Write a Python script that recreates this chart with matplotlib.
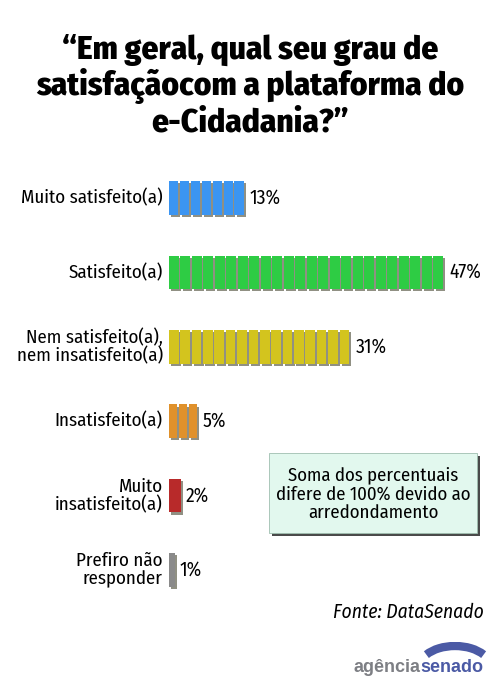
import math
import matplotlib
matplotlib.use("Agg")
import matplotlib.pyplot as plt
from matplotlib.patches import Rectangle, Arc
import matplotlib.patheffects as pe

categories = ["Muito satisfeito(a)", "Satisfeito(a)", "Nem satisfeito(a),\nnem insatisfeito(a)",
              "Insatisfeito(a)", "Muito\ninsatisfeito(a)", "Prefiro não\nresponder"]
values = [13, 47, 31, 5, 2, 1]
value_labels = ["13%", "47%", "31%", "5%", "2%", "1%"]
colors = ["#3b95f2", "#2ecc44", "#d3c41e", "#e0912b", "#b82a2a", "#8a8a8a"]

title = "\u201cEm geral, qual seu grau de\nsatisfaçãocom a plataforma do\ne-Cidadania?\u201d"
note = "Soma dos percentuais\ndifere de 100% devido ao\narredondamento"
source = "Fonte: DataSenado"

W, H = 500, 691
FONT = ["Fira Sans Condensed", "DejaVu Sans"]
fig = plt.figure(figsize=(W / 100, H / 100), dpi=100)
fig.patch.set_facecolor("white")

def fx(x): return x / W
def fy(y): return 1 - y / H

# title
fig.text(fx(250), fy(86), title, ha="center", va="center", fontsize=24, fontweight="heavy",
         family=FONT, linespacing=1.1, color="black")

# bar axes: x 0% at px 169, 5.87 px per %
x0, x1 = 169, 500
ppp = 5.87
ytop, ybot = 160, 610
c0, step = 198, 74.4
ax = fig.add_axes([fx(x0), fy(ybot), (x1 - x0) / W, (ybot - ytop) / H])
ax.set_xlim(0, (x1 - x0) / ppp)
ax.set_ylim((ybot - c0) / step, -(c0 - ytop) / step)
ax.axis("off")

bh = 0.45
shadow = [pe.SimplePatchShadow(offset=(1.6, -1.6), shadow_rgbFace="#6b6b5a", alpha=0.75), pe.Normal()]
for i, (v, col) in enumerate(zip(values, colors)):
    n = max(1, math.ceil(v / 2))
    w = v / n
    lefts = [k * w for k in range(n)]
    seg = w - 0.3 if n > 1 else w
    bars = ax.barh([i] * n, [seg] * n, left=lefts, height=bh, align="center", color=col,
                   edgecolor="none")
    for b in bars:
        b.set_path_effects(shadow)
    ax.text(v + 0.75, i, value_labels[i], ha="left", va="center", fontsize=14, family=FONT, color="black")
    ax.text(-1.05, i, categories[i], ha="right", va="center", fontsize=13.6, family=FONT,
            color="black", linespacing=1.0, multialignment="right")

# note box
bx, by, bw, bhh = 269, 453, 208, 80
fig.patches.append(Rectangle((fx(bx + 3), fy(by + bhh + 3)), bw / W, bhh / H, transform=fig.transFigure,
                             facecolor="#4a4a4a", edgecolor="none", zorder=1))
fig.patches.append(Rectangle((fx(bx), fy(by + bhh)), bw / W, bhh / H, transform=fig.transFigure,
                             facecolor="#e2f8ee", edgecolor="#9fbfb0", linewidth=0.6, zorder=2))
fig.text(fx(bx + bw / 2), fy(by + bhh / 2 + 1), note, ha="center", va="center", fontsize=13.5,
         family=FONT, linespacing=1.08, zorder=3)

# source
fig.text(fx(484), fy(612), source, ha="right", va="center", fontsize=14, family=FONT, style="italic")

# logo
fig.text(fx(421), fy(672), "agência", ha="right", va="baseline", fontsize=13, fontweight="bold",
         family=["Liberation Sans", "DejaVu Sans"], color="#7d7f84")
fig.text(fx(420), fy(672), "senado", ha="left", va="baseline", fontsize=13, fontweight="bold",
         family=["Liberation Sans", "DejaVu Sans"], color="#4b5aa5")
lax = fig.add_axes([fx(405), fy(672), 90 / W, 30 / H])
lax.set_xlim(0, 90); lax.set_ylim(0, 30); lax.axis("off")
lax.add_patch(Arc((50, 4), 72, 44, theta1=25, theta2=155, color="#4b5aa5", linewidth=6))

fig.savefig("out.png", dpi=100, facecolor="white")
